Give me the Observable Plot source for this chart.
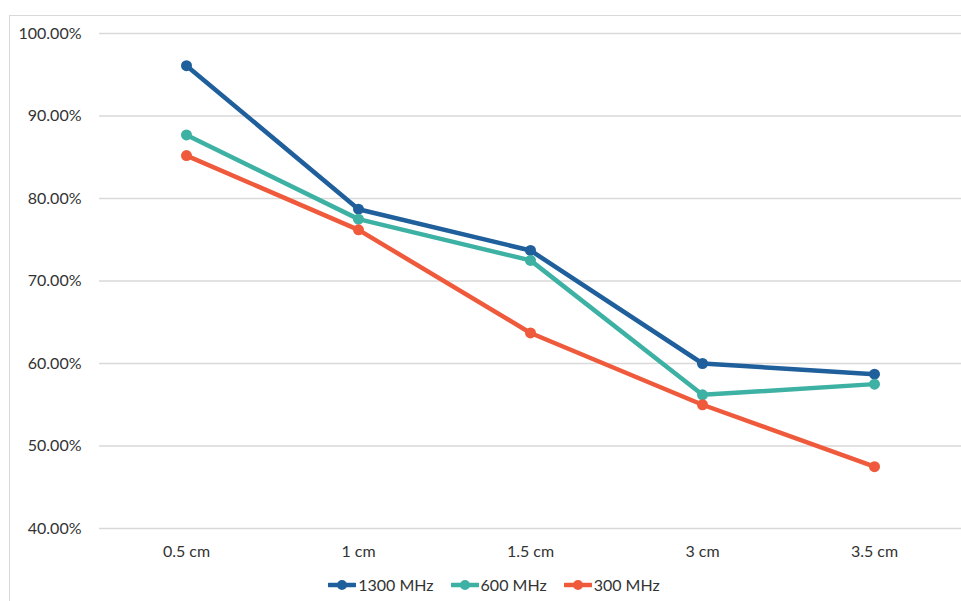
<!DOCTYPE html>
<html>
<head>
<meta charset="utf-8">
<script src="https://cdn.jsdelivr.net/npm/d3@7"></script>
<script src="https://cdn.jsdelivr.net/npm/@observablehq/plot@0.6"></script>
<style>
  html, body { margin: 0; padding: 0; background: #fff; overflow: hidden; width: 961px; height: 601px; }
  #frame { position: absolute; left: 9px; top: 15px; width: 1000px; height: 700px; border: 1px solid #d9d9d9; box-sizing: border-box; }
  #chart { position: absolute; left: 0; top: 0; }
  #legend { position: absolute; left: 0; top: 575px; width: 988px; display: flex; justify-content: center; gap: 17px;
            font-family: Lato, "Open Sans", sans-serif; font-size: 16px; color: #333; }
  .item { display: flex; align-items: center; gap: 2px; }
</style>
</head>
<body>
<div id="frame"></div>
<div id="chart"></div>
<div id="legend"></div>
<script>
const categories = ["0.5 cm", "1 cm", "1.5 cm", "3 cm", "3.5 cm"];
const seriesNames = ["1300 MHz", "600 MHz", "300 MHz"];
const s1300 = [0.961, 0.787, 0.737, 0.600, 0.587];
const s600  = [0.877, 0.775, 0.725, 0.562, 0.575];
const s300  = [0.852, 0.762, 0.637, 0.550, 0.475];
const yTicks = [0.4, 0.5, 0.6, 0.7, 0.8, 0.9, 1.0];
const colors = ["#1f5f9b", "#3db1a3", "#ee5a3b"];

const seriesValues = [s1300, s600, s300];
const rows = [];
seriesNames.forEach((name, i) => {
  categories.forEach((c, j) => rows.push({ series: name, cat: c, value: seriesValues[i][j] }));
});

const chart = Plot.plot({
  width: 961,
  height: 560,
  marginLeft: 99,
  marginRight: 0,
  marginTop: 33,
  marginBottom: 32,
  style: { fontFamily: "Lato, 'Open Sans', sans-serif", fontSize: "16px", color: "#333", background: "transparent" },
  x: { type: "point", domain: categories, padding: 0.5, label: null, tickSize: 0, tickPadding: 17 },
  y: { domain: [0.4, 1.0], ticks: yTicks, tickFormat: d3.format(".2%"), label: null, tickSize: 0, tickPadding: 18 },
  color: { domain: seriesNames, range: colors },
  marks: [
    Plot.ruleY(yTicks, { stroke: "#d9d9d9", strokeWidth: 1.3 }),
    Plot.line(rows, { x: "cat", y: "value", z: "series", stroke: "series", strokeWidth: 4.5, strokeLinejoin: "round" }),
    Plot.dot(rows, { x: "cat", y: "value", fill: "series", r: 5.5 })
  ]
});
document.getElementById("chart").appendChild(chart);

const legend = document.getElementById("legend");
seriesNames.forEach((name, i) => {
  const item = document.createElement("div");
  item.className = "item";
  item.innerHTML = `<svg width="28" height="12"><line x1="1" y1="6" x2="27" y2="6" stroke="${colors[i]}" stroke-width="4.5" stroke-linecap="round"/><circle cx="14" cy="6" r="5" fill="${colors[i]}"/></svg><span>${name}</span>`;
  legend.appendChild(item);
});
</script>
</body>
</html>
